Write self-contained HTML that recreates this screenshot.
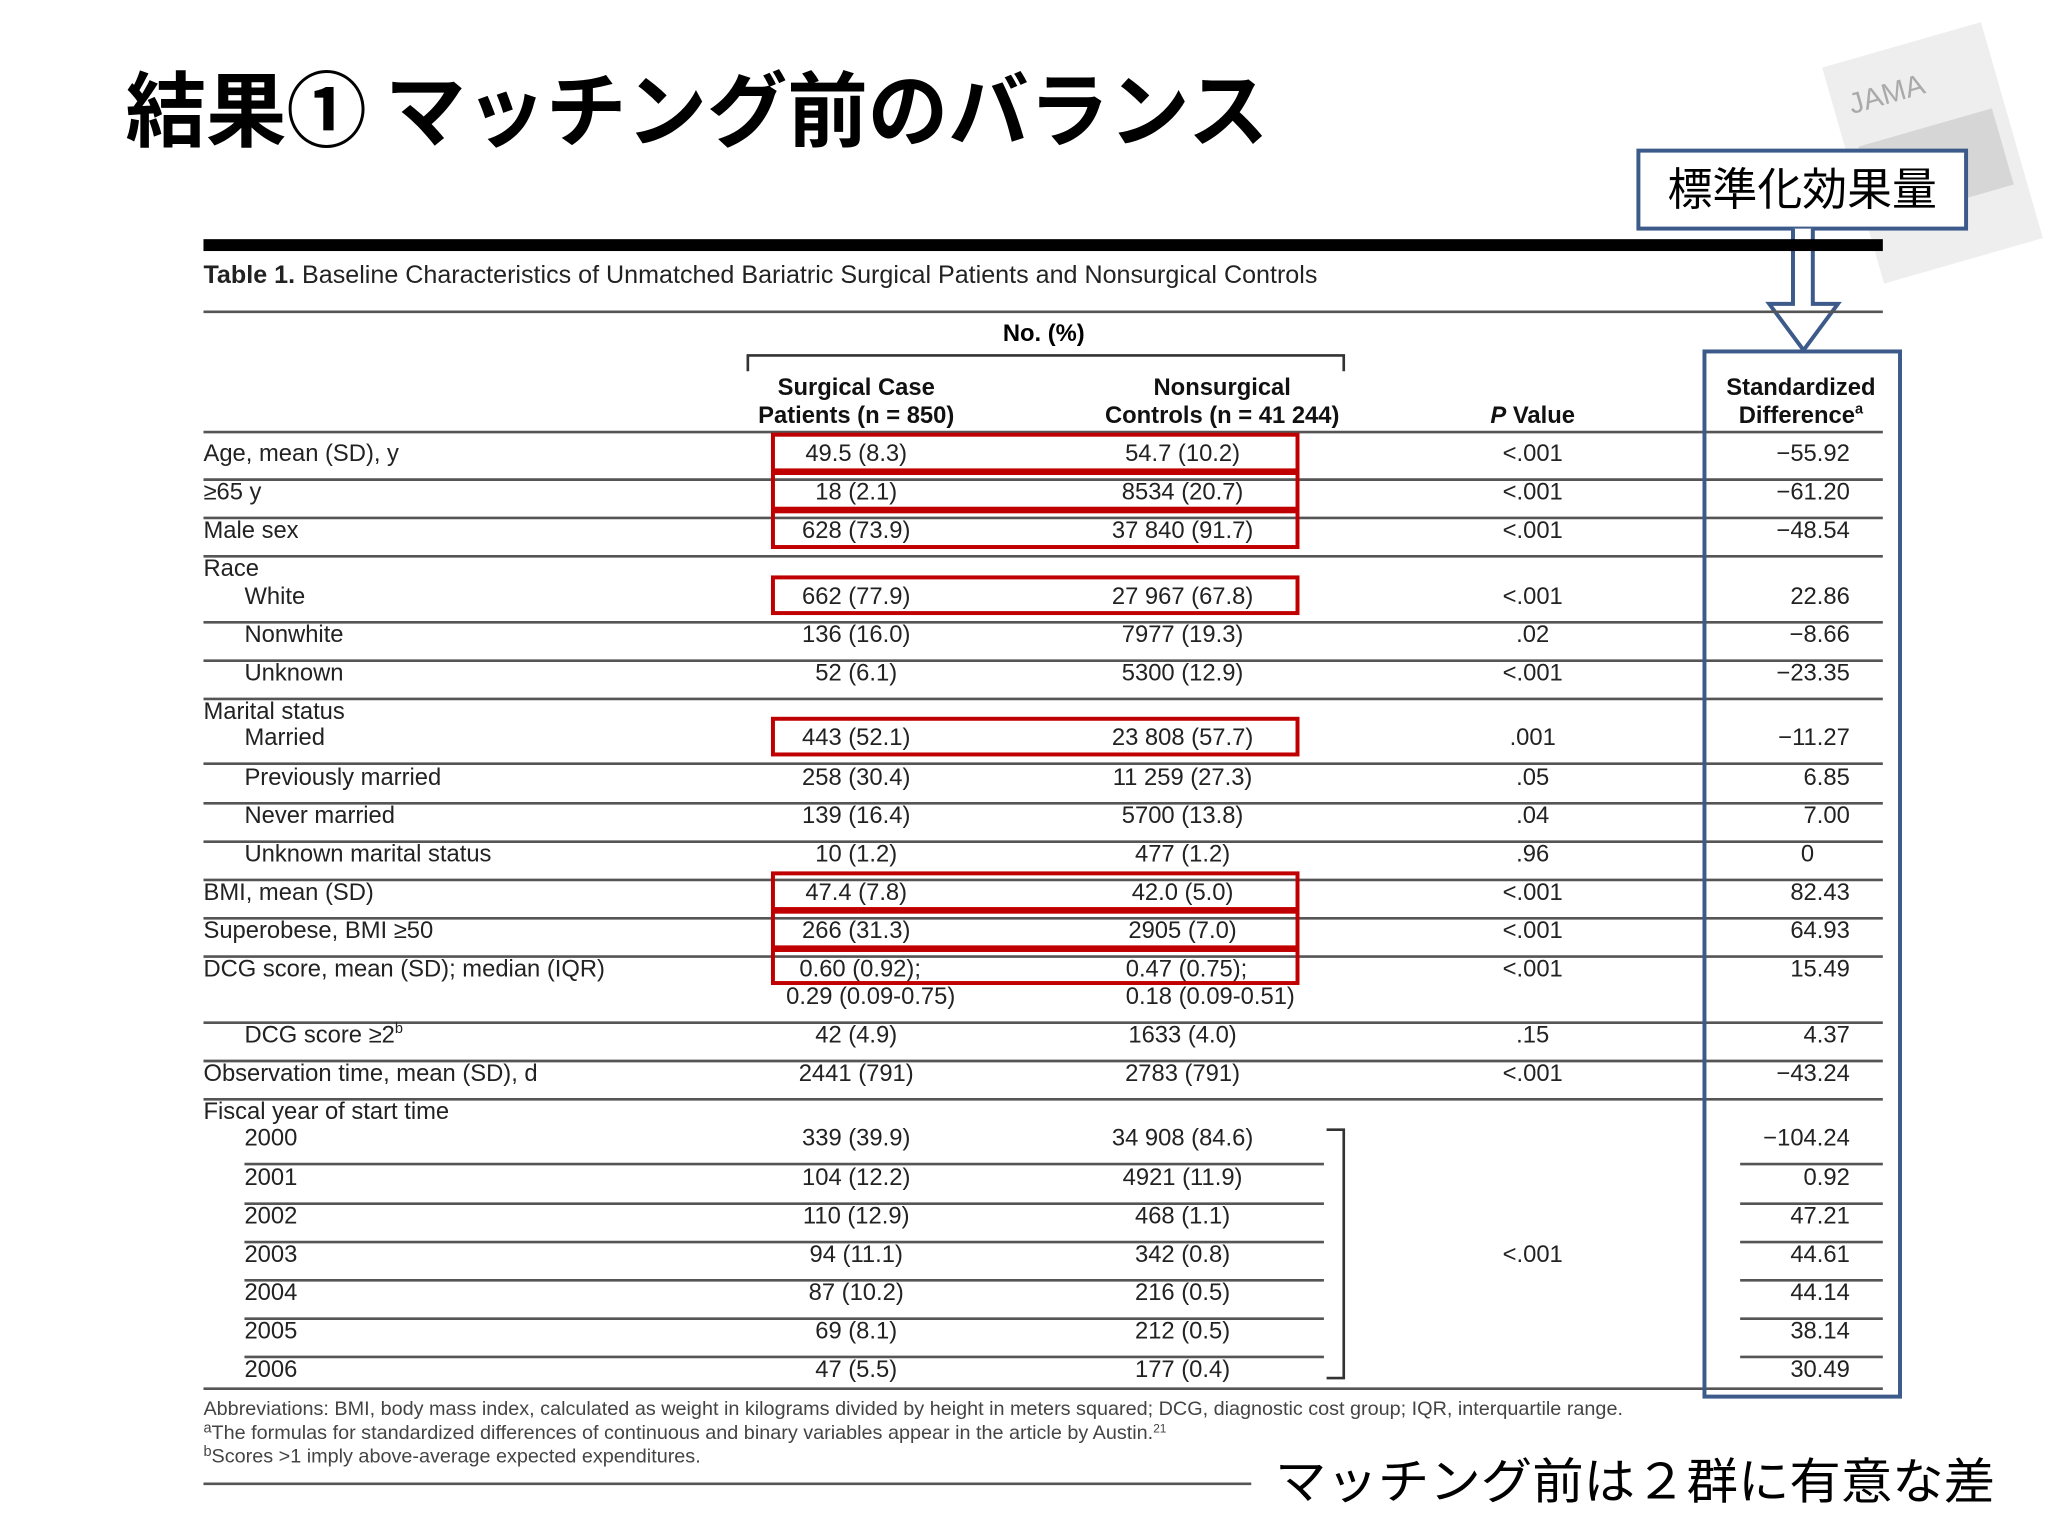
<!DOCTYPE html>
<html><head><meta charset="utf-8">
<style>
html,body{margin:0;padding:0;background:#fff;}
svg{display:block;font-family:"Liberation Sans","Noto Sans CJK JP",sans-serif;}
</style></head>
<body>
<svg id="s" width="2048" height="1536" viewBox="0 0 1550 1162.5" xmlns="http://www.w3.org/2000/svg">
<rect width="1550" height="1162.5" fill="#fff"/>
<g transform="rotate(-16 1465 115)">
<rect x="1400" y="30" width="125" height="170" fill="#eeeeee"/>
<rect x="1410" y="95" width="105" height="60" fill="#d6d6d6"/>
<text x="1412" y="70" font-size="22" fill="#aaa">JAMA</text>
</g>
<text x="95" y="106" font-size="62" font-weight="bold" fill="#000" textLength="865" lengthAdjust="spacingAndGlyphs" font-family="'Noto Sans CJK JP',sans-serif">結果① マッチング前のバランス</text>
<rect x="1240" y="114" width="248" height="59" fill="#fff" stroke="#3c5a8a" stroke-width="3"/>
<text x="1364" y="155" font-size="34" text-anchor="middle" fill="#000" font-family="'Noto Sans CJK JP',sans-serif">標準化効果量</text>
<g fill="#fff" stroke="#3c5a8a" stroke-width="3">
<path d="M1357 173 V230 H1339 L1365 265 L1391 230 H1372 V173"/>
</g>
<rect x="154" y="181" width="1271" height="9" fill="#000"/>
<text x="154" y="214" font-size="19" fill="#222"><tspan font-weight="bold">Table 1.</tspan> Baseline Characteristics of Unmatched Bariatric Surgical Patients and Nonsurgical Controls</text>
<line x1="154" y1="236" x2="1425" y2="236" stroke="#555" stroke-width="2"/>
<text x="790" y="258" font-size="18" font-weight="bold" text-anchor="middle">No. (%)</text>
<path d="M566 281 V269 H1017 V281" fill="none" stroke="#333" stroke-width="2"/>
<g font-size="18" font-weight="bold" text-anchor="middle" fill="#111">
<text x="648" y="299">Surgical Case</text>
<text x="648" y="320">Patients (n = 850)</text>
<text x="925" y="299">Nonsurgical</text>
<text x="925" y="320">Controls (n = 41 244)</text>
<text x="1160" y="320"><tspan font-style="italic">P</tspan> Value</text>
<text x="1363" y="299">Standardized</text>
<text x="1363" y="320">Difference<tspan font-size="11" dy="-7">a</tspan></text>
</g>
<line x1="154" y1="327" x2="1425" y2="327" stroke="#555" stroke-width="2"/>
<g id="rows"></g>
<path d="M1004 855 H1017 V1043 H1004" fill="none" stroke="#333" stroke-width="2"/>
<text x="1160" y="955" font-size="18" text-anchor="middle" fill="#222">&lt;.001</text>
<line x1="154" y1="1051" x2="1425" y2="1051" stroke="#555" stroke-width="2"/>
<g id="marks"></g>
<rect x="1290" y="266" width="148" height="791" fill="none" stroke="#3c5a8a" stroke-width="3"/>
<g font-size="15" fill="#444">
<text x="154" y="1071">Abbreviations: BMI, body mass index, calculated as weight in kilograms divided by height in meters squared; DCG, diagnostic cost group; IQR, interquartile range.</text>
<text x="154" y="1089"><tspan font-size="11" dy="-5">a</tspan><tspan dy="5">The formulas for standardized differences of continuous and binary variables appear in the article by Austin.</tspan><tspan font-size="9" dy="-5">21</tspan></text>
<text x="154" y="1107"><tspan font-size="11" dy="-5">b</tspan><tspan dy="5">Scores &gt;1 imply above-average expected expenditures.</tspan></text>
</g>
<line x1="154" y1="1123" x2="947" y2="1123" stroke="#555" stroke-width="2"/>
<text x="965" y="1134" font-size="37" fill="#000" textLength="545" lengthAdjust="spacingAndGlyphs" font-family="'Noto Sans CJK JP',sans-serif">マッチング前は２群に有意な差</text>
</svg>
<script>
const labels=["Age, mean (SD), y","≥65 y","Male sex","Race","White","Nonwhite","Unknown","Marital status","Married","Previously married","Never married","Unknown marital status","BMI, mean (SD)","Superobese, BMI ≥50","DCG score, mean (SD); median (IQR)","","DCG score ≥2","Observation time, mean (SD), d","Fiscal year of start time","2000","2001","2002","2003","2004","2005","2006"];
const surgical=["49.5 (8.3)","18 (2.1)","628 (73.9)","","662 (77.9)","136 (16.0)","52 (6.1)","","443 (52.1)","258 (30.4)","139 (16.4)","10 (1.2)","47.4 (7.8)","266 (31.3)","0.60 (0.92);","0.29 (0.09-0.75)","42 (4.9)","2441 (791)","","339 (39.9)","104 (12.2)","110 (12.9)","94 (11.1)","87 (10.2)","69 (8.1)","47 (5.5)"];
const nonsurgical=["54.7 (10.2)","8534 (20.7)","37 840 (91.7)","","27 967 (67.8)","7977 (19.3)","5300 (12.9)","","23 808 (57.7)","11 259 (27.3)","5700 (13.8)","477 (1.2)","42.0 (5.0)","2905 (7.0)","0.47 (0.75);","0.18 (0.09-0.51)","1633 (4.0)","2783 (791)","","34 908 (84.6)","4921 (11.9)","468 (1.1)","342 (0.8)","216 (0.5)","212 (0.5)","177 (0.4)"];
const pvalues=["<.001","<.001","<.001","","<.001",".02","<.001","",".001",".05",".04",".96","<.001","<.001","<.001","",".15","<.001","","","","","","","",""];
const stddiff=["−55.92","−61.20","−48.54","","22.86","−8.66","−23.35","","−11.27","6.85","7.00","0","82.43","64.93","15.49","","4.37","−43.24","","−104.24","0.92","47.21","44.61","44.14","38.14","30.49"];
const baselines=[349,378,407,436,457,486,515,544,564,594,623,652,681,710,739,760,789,818,847,867,897,926,955,984,1013,1042];
const indent=[0,0,0,0,1,1,1,0,1,1,1,1,0,0,0,0,1,0,0,1,1,1,1,1,1,1];
const lineAfter=[1,1,1,0,1,1,1,0,1,1,1,1,1,1,0,1,1,1,0,2,2,2,2,2,2,0];
const highlighted=[1,1,1,0,1,0,0,0,1,0,0,0,1,1,1,0,0,0,0,0,0,0,0,0,0,0];
const NS="http://www.w3.org/2000/svg";
const g=document.getElementById('rows'),m=document.getElementById('marks');
function t(x,y,s,anchor){const e=document.createElementNS(NS,'text');e.setAttribute('x',x);e.setAttribute('y',y);e.setAttribute('font-size','18');e.setAttribute('fill','#222');e.setAttribute('text-anchor',anchor);e.textContent=s;g.appendChild(e);return e;}
function ln(x1,y,x2){const e=document.createElementNS(NS,'line');e.setAttribute('x1',x1);e.setAttribute('x2',x2);e.setAttribute('y1',y);e.setAttribute('y2',y);e.setAttribute('stroke','#555');e.setAttribute('stroke-width','2');g.appendChild(e);return e;}
labels.forEach((l,i)=>{
 const y=baselines[i];
 if(l){const e=t(indent[i]?185:154,y,l,'start');
 
 
 if(i===16){const sp=document.createElementNS(NS,'tspan');sp.setAttribute('font-size','11');sp.setAttribute('dy','-7');sp.textContent='b';e.appendChild(sp);}}
 const dcg=(i===14||i===15);
 if(surgical[i]){const e=t(dcg?(i===14?605:595):648,y,surgical[i],dcg?'start':'middle');
 
 }
 if(nonsurgical[i]){const e=t(dcg?852:895,y,nonsurgical[i],dcg?'start':'middle');
 
 }
 if(pvalues[i]){const e=t(1160,y,pvalues[i],'middle');
 
 }
 if(stddiff[i]){const e=t(stddiff[i]==='0'?1373:1400,y,stddiff[i],'end');
 
 }
 const ly=y+14;
 if(lineAfter[i]===1){const e=ln(154,ly,1425);
 
 }
 if(lineAfter[i]===2){const a=ln(185,ly,1002);
 
 
 const b=ln(1317,ly,1425);
 
 }
 if(highlighted[i]){const r=document.createElementNS(NS,'rect');
 r.setAttribute('x',585);r.setAttribute('y',y-20);r.setAttribute('width',397);r.setAttribute('height',i===14?25:27);
 r.setAttribute('fill','none');r.setAttribute('stroke','#c00000');r.setAttribute('stroke-width','3');
 
 
 m.appendChild(r);}
});
</script>
</body></html>
